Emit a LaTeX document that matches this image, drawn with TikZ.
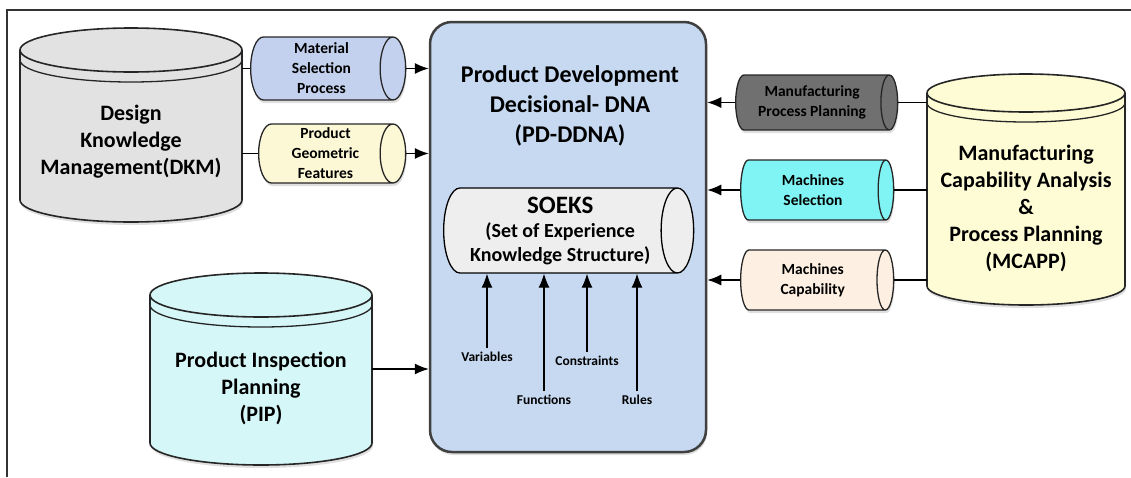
\documentclass[tikz,border=0pt]{standalone}
\usepackage{fontspec}
\setmainfont{Carlito}
\usetikzlibrary{shapes.geometric,arrows.meta,shadows,positioning}
\definecolor{dkmfill}{HTML}{E2E2E2}
\definecolor{matfill}{HTML}{C3D1EE}
\definecolor{geofill}{HTML}{FCF8D6}
\definecolor{pipfill}{HTML}{D6F7F7}
\definecolor{pdfill}{HTML}{C6D9F1}
\definecolor{soeksfill}{HTML}{EEEEEE}
\definecolor{mcappfill}{HTML}{FEFCD5}
\definecolor{mppfill}{HTML}{707070}
\definecolor{mselfill}{HTML}{80F4F4}
\definecolor{mcapfill}{HTML}{FDF0E2}
\tikzset{
    drumbox/.style={rectangle, inner sep=0pt, outer sep=0pt},
    drumline/.style={draw=black!85, line width=1.6pt, line join=round},
    dbtext/.style={font=\bfseries\fontsize{22}{27}\selectfont, align=center},
    pipe/.style={cylinder, anchor=west, draw=black!85, line width=1.3pt, aspect=0.5, align=center, inner sep=0pt,
        font=\bfseries\fontsize{15.5}{20}\selectfont,
        drop shadow={opacity=0.25, shadow xshift=1pt, shadow yshift=-3pt}},
    flow/.style={-{Latex[length=14pt,width=11pt]}, line width=1.2pt},
    tag/.style={font=\bfseries\fontsize{13.5}{16}\selectfont, inner sep=1pt}
}
% database drum round a named box: name, fill, y radius, x radius
\newcommand{\drum}[4]{%
    \path[drumline, fill=#2, drop shadow={opacity=0.25, shadow xshift=1pt, shadow yshift=-3pt}]
        ([yshift=-#3]#1.north west) -- ([yshift=#3]#1.south west)
        arc[start angle=180, end angle=360, x radius=#4, y radius=#3]
        -- ([yshift=-#3]#1.north east)
        arc[start angle=0, end angle=180, x radius=#4, y radius=#3] -- cycle;
    \draw[drumline] ([yshift=-#3]#1.north west) arc[start angle=180, end angle=360, x radius=#4, y radius=#3];
    \draw[drumline, line width=1.3pt] ([yshift=-#3-10pt]#1.north west) arc[start angle=180, end angle=360, x radius=#4, y radius=#3];
}
\begin{document}
\begin{tikzpicture}[x=1pt, y=1pt]
    \useasboundingbox (0,0) rectangle (1131,-477);
    % frame
    \draw[black!80, line width=1.3pt] (7,-477) -- (7,-10) -- (1131,-10);

    % left side
    \node[drumbox, minimum width=222pt, minimum height=194pt] (dkm) at (131,-125) {};
    \drum{dkm}{dkmfill}{22pt}{111pt}
    \node[dbtext] (dkmtext) at ([yshift=-17pt]dkm.center) {Design\\Knowledge\\Management(DKM)};
    \node[pipe, fill=matfill, minimum width=63pt, minimum height=155pt] (mat) at (250,-68.5)
        {Material\\Selection\\Process};
    \node[pipe, fill=geofill, minimum width=59pt, minimum height=147pt] (geo) at (258,-153.5)
        {Product\\Geometric\\Features};
    \node[drumbox, minimum width=222pt, minimum height=192pt] (pip) at (261,-369) {};
    \drum{pip}{pipfill}{22pt}{111pt}
    \node[dbtext] (piptext) at ([yshift=-19pt]pip.center) {Product Inspection\\Planning\\(PIP)};

    % middle
    \node[draw=black!75, fill=pdfill, line width=2.5pt, rounded corners=22pt,
        minimum width=276pt, minimum height=430pt,
        drop shadow={opacity=0.25, shadow xshift=1pt, shadow yshift=-3pt}] (pd) at (568,-237) {};
    \node[font=\bfseries\fontsize{24}{30}\selectfont, align=center] (pdtitle) at (570,-106)
        {Product Development\\Decisional- DNA\\(PD-DDNA)};
    \node[cylinder, anchor=west, draw=black, line width=1.3pt, fill=soeksfill, aspect=0.48, inner sep=0pt,
        minimum width=85pt, minimum height=250pt, align=center,
        font=\bfseries\fontsize{20}{24}\selectfont] (soeks) at (443,-230.5)
        {{\fontsize{25}{28}\selectfont SOEKS}\\(Set of Experience\\Knowledge Structure)};
    \node[tag] (var) at (487,-357) {Variables};
    \node[tag] (fun) at (544,-400) {Functions};
    \node[tag] (con) at (587,-361) {Constraints};
    \node[tag] (rul) at (637,-400) {Rules};

    % right side
    \node[drumbox, minimum width=198pt, minimum height=231pt] (mcapp) at (1026,-189.5) {};
    \drum{mcapp}{mcappfill}{19pt}{99pt}
    \node[dbtext] (mcapptext) at ([yshift=-19pt]mcapp.center)
        {Manufacturing\\Capability Analysis\\\&\\Process Planning\\(MCAPP)};
    \node[pipe, fill=mppfill, minimum width=55pt, minimum height=162pt] (mpp) at (735,-102.5)
        {Manufacturing\\Process Planning};
    \node[pipe, fill=mselfill, minimum width=60pt, minimum height=153pt] (msel) at (740,-190)
        {Machines\\Selection};
    \node[pipe, fill=mcapfill, minimum width=60pt, minimum height=153pt] (mcap) at (740,-280)
        {Machines\\Capability};

    % connectors
    \draw[line width=1.2pt] (mat.west) -- (mat.west -| dkm.east);
    \draw[line width=1.2pt] (geo.west) -- (geo.west -| dkm.east);
    \draw[flow] (mat.east) -- (mat.east -| pd.west);
    \draw[flow] (geo.east) -- (geo.east -| pd.west);
    \draw[flow] (pip.east) -- (pip.east -| pd.west);
    \draw[line width=1.2pt] (mpp.east) -- (mpp.east -| mcapp.west);
    \draw[line width=1.2pt] (msel.east) -- (msel.east -| mcapp.west);
    \draw[line width=1.2pt] (mcap.east) -- (mcap.east -| mcapp.west);
    \draw[flow] (mpp.west) -- (mpp.west -| pd.east);
    \draw[flow] (msel.west) -- (msel.west -| pd.east);
    \draw[flow] (mcap.west) -- (mcap.west -| pd.east);
    \foreach \t in {var,fun,con,rul}
        \draw[flow] ([yshift=3pt]\t.north) -- (\t.north |- soeks.south);
\end{tikzpicture}
\end{document}
